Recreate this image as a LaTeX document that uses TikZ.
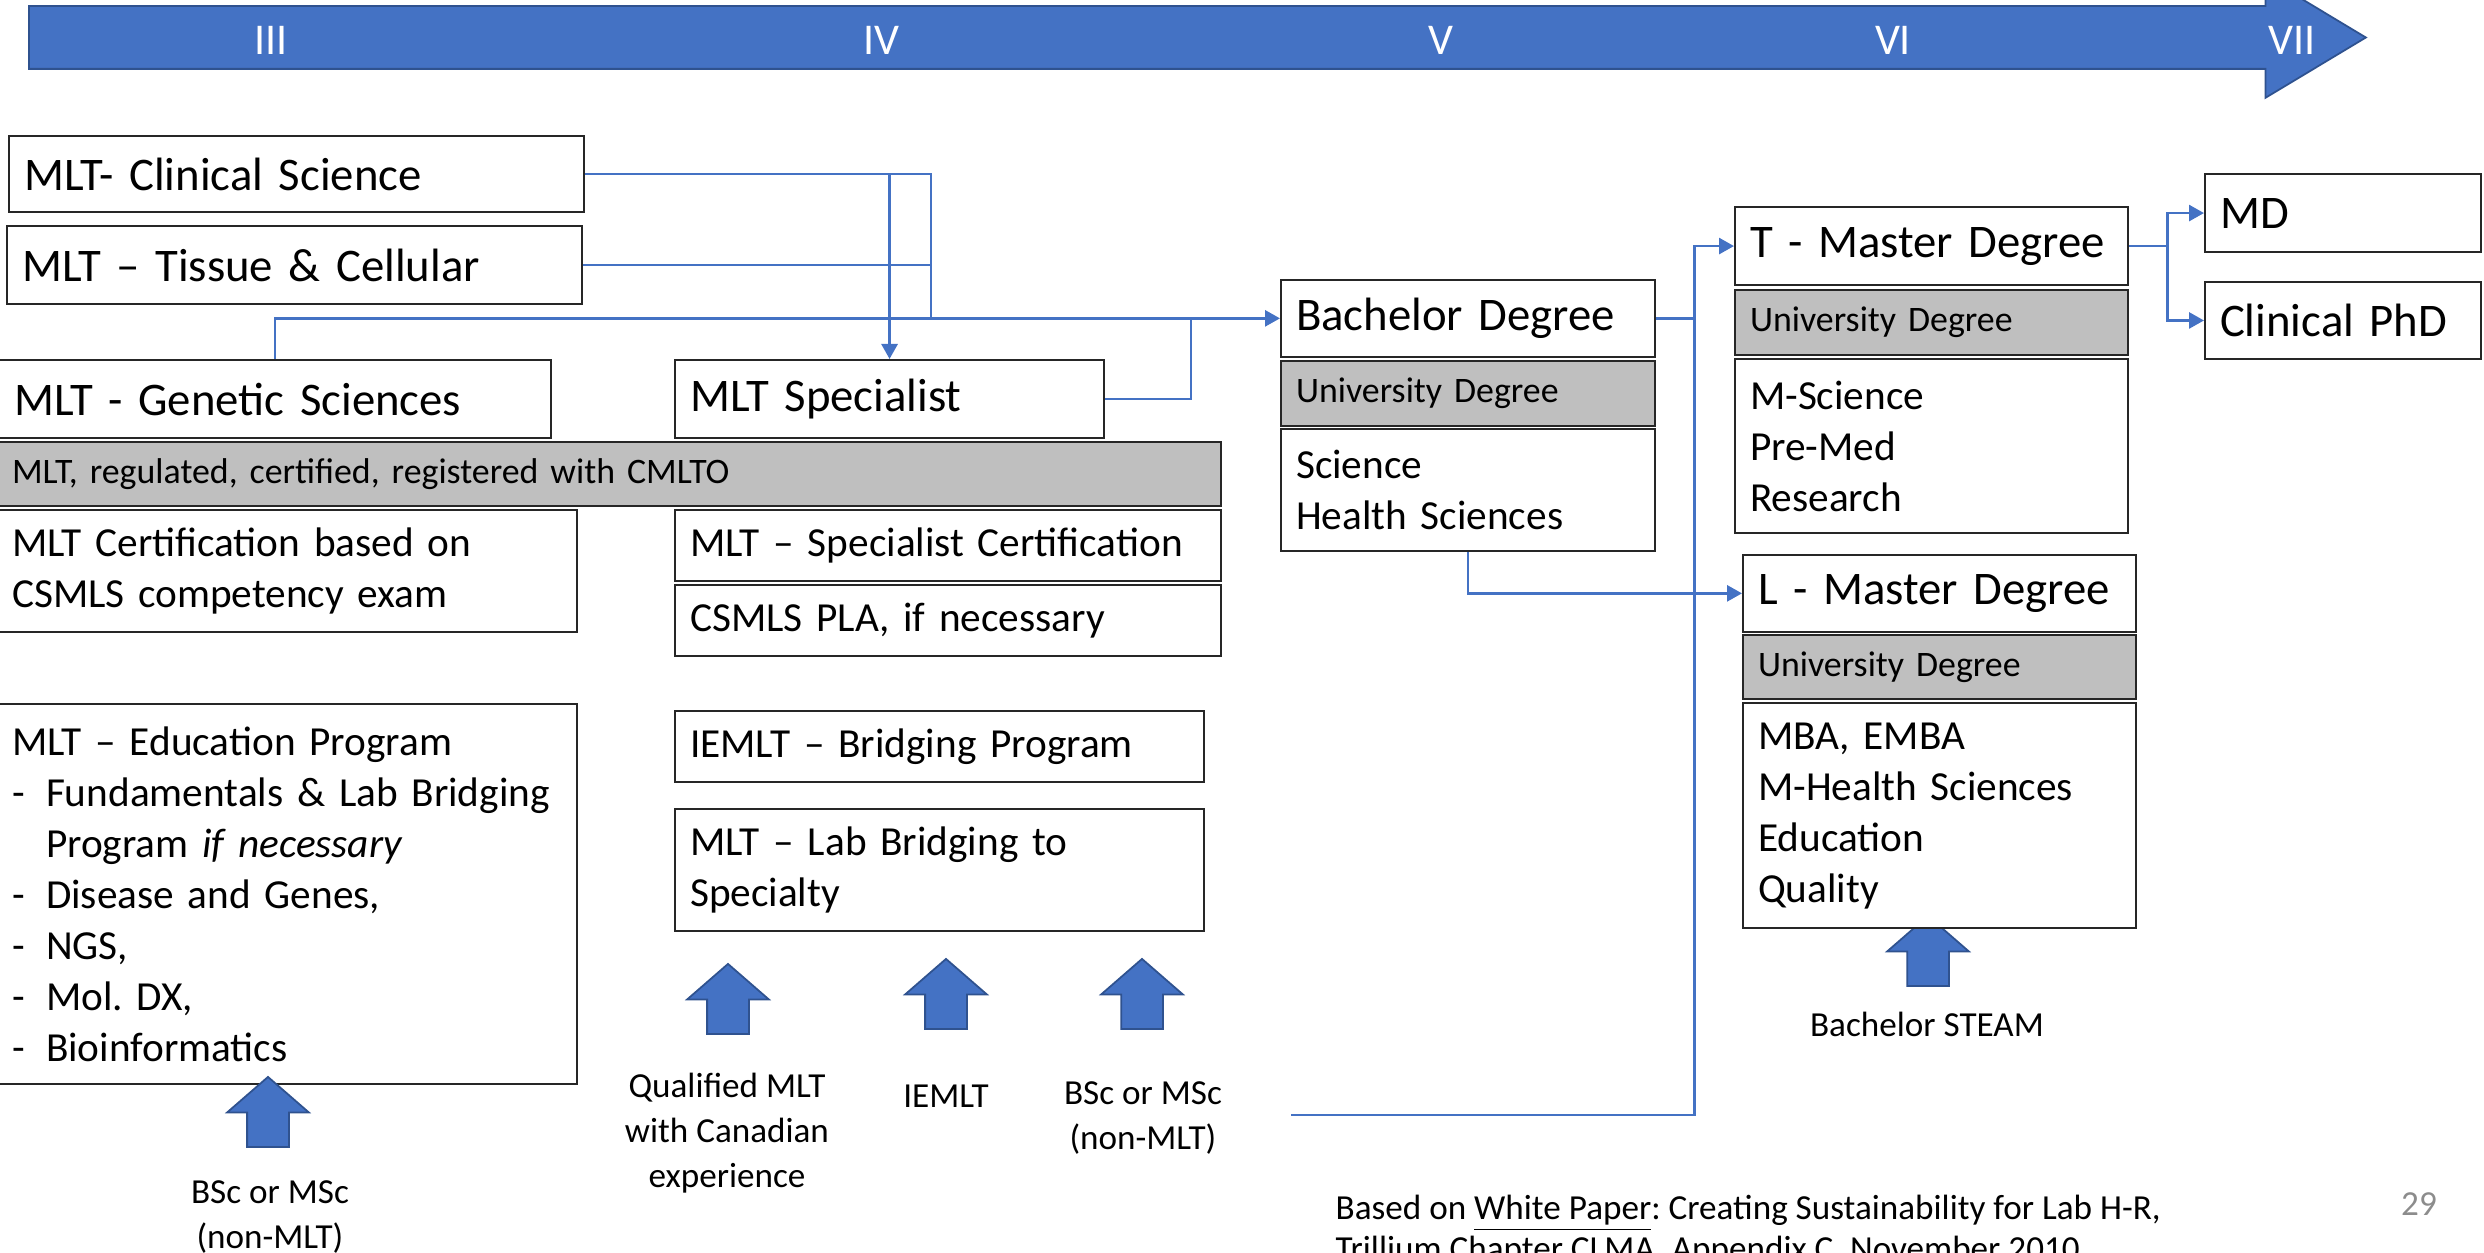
\documentclass[tikz,border=0pt]{standalone}
\usepackage{fontspec}
\setmainfont{Carlito}
\usepackage{tikz}
\usetikzlibrary{shapes.arrows, arrows.meta, positioning, calc}
\definecolor{pathblue}{HTML}{4472C4}
\definecolor{pathedge}{HTML}{2F528F}
\definecolor{bargray}{HTML}{BFBFBF}
\definecolor{pagenum}{HTML}{8C8C8C}
\newcommand{\bigtxt}{\fontsize{13.3}{16}\selectfont}
\newcommand{\midtxt}{\fontsize{11.75}{14.5}\selectfont}
\newcommand{\smalltxt}{\fontsize{10.2}{12.5}\selectfont}
\newcommand{\notetxt}{\fontsize{10}{12.8}\selectfont}
\newcommand{\dashitem}{\makebox[0.34cm][l]{-}}
\frenchspacing

\begin{document}
\begin{tikzpicture}[
    box/.style={rectangle, draw=black!85, line width=0.6pt, fill=white, anchor=north west, align=left, inner xsep=0.15cm, inner ysep=0pt, font=\bigtxt},
    listbox/.style={box, font=\midtxt},
    graybox/.style={box, fill=bargray, font=\smalltxt},
    banner/.style={single arrow, draw=pathedge, fill=pathblue, line width=0.5pt, anchor=tail, minimum height=23.37cm, minimum width=1.19cm, inner xsep=0pt, inner ysep=0.305cm, single arrow head extend=0.29cm, single arrow tip angle=62},
    stage/.style={text=white, font=\fontsize{12.5}{15}\selectfont},
    uparrow/.style={single arrow, draw=pathedge, fill=pathblue, line width=0.5pt, rotate=90, minimum width=0.8cm, minimum height=0.7cm, inner xsep=0pt, inner ysep=0.2cm, single arrow head extend=0.2cm, single arrow tip angle=98},
    source/.style={align=center, font=\notetxt, inner sep=0pt},
    link/.style={draw=pathblue, line width=0.8pt},
    arrowstyle/.style={link, -{Triangle[length=1.5mm,width=1.6mm]}}
]
\useasboundingbox (0,0) rectangle (24.84,-12.53);

% Timeline
\node[banner] (timeline) at (0.28,-0.375) {};
\foreach \num/\xpos in {III/2.71, IV/8.81, V/14.41, VI/18.93, VII/22.92}
    \node[stage] (st\num) at (\xpos,-0.40) {\num};

% MLT streams
\node[box, text width=5.45cm, minimum height=0.76cm] (clin) at (0.08,-1.35) {MLT- Clinical Science};
\node[box, text width=5.45cm, minimum height=0.78cm] (tissue) at (0.06,-2.25) {MLT -- Tissue \& Cellular};
\node[box, text width=5.22cm, minimum height=0.78cm] (genetic) at (-0.02,-3.59) {MLT - Genetic Sciences};
\node[box, text width=3.99cm, minimum height=0.78cm] (spec) at (6.74,-3.59) {MLT Specialist};
\node[graybox, text width=11.94cm, minimum height=0.64cm] (regbar) at (-0.04,-4.41) {MLT, regulated, certified, registered with CMLTO};

% Certification
\node[listbox, text width=5.50cm, minimum height=1.22cm] (cert) at (-0.04,-5.09) {MLT Certification based on\\CSMLS competency exam};
\node[listbox, text width=5.16cm, minimum height=0.71cm] (speccert) at (6.74,-5.09) {MLT -- Specialist Certification};
\node[listbox, text width=5.16cm, minimum height=0.705cm, below=0.02cm of speccert] (pla) {CSMLS PLA, if necessary};

% Programs
\node[listbox, text width=5.50cm, minimum height=3.80cm] (edu) at (-0.04,-7.03) {MLT -- Education Program\\
    \dashitem Fundamentals \& Lab Bridging\\
    \hspace*{0.34cm}Program \textit{if necessary}\\
    \dashitem Disease and Genes,\\
    \dashitem NGS,\\
    \dashitem Mol. DX,\\
    \dashitem Bioinformatics};
\node[listbox, text width=4.99cm, minimum height=0.705cm] (iemltbr) at (6.74,-7.10) {IEMLT -- Bridging Program};
\node[listbox, text width=4.99cm, minimum height=1.22cm, below=0.255cm of iemltbr] (labbr) {MLT -- Lab Bridging to\\Specialty};

% Entry points
\node[uparrow] (upedu) at (2.68,-11.21) {};
\node[uparrow] (upqual) at (7.28,-10.08) {};
\node[uparrow] (upiemlt) at (9.46,-10.03) {};
\node[uparrow] (upbsc) at (11.42,-10.03) {};
\node[uparrow] (upsteam) at (19.28,-9.60) {};
\node[source] (srcedu) at (2.70,-12.175) {BSc or MSc\\(non-MLT)};
\node[source] (srcqual) at (7.27,-11.33) {Qualified MLT\\with Canadian\\experience};
\node[source] (srciemlt) at (9.46,-10.96) {IEMLT};
\node[source] (srcbsc) at (11.43,-11.18) {BSc or MSc\\(non-MLT)};
\node[source] (srcsteam) at (19.27,-10.24) {Bachelor STEAM};

% University degrees
\node[box, text width=3.44cm, minimum height=0.774cm] (bach) at (12.80,-2.786) {Bachelor Degree};
\node[graybox, text width=3.44cm, minimum height=0.65cm, below=0.02cm of bach] (bachuni) {University Degree};
\node[listbox, text width=3.44cm, minimum height=1.22cm, below=0.01cm of bachuni] (bachlist) {Science\\Health Sciences};

\node[box, text width=3.63cm, minimum height=0.78cm] (tmaster) at (17.34,-2.06) {T - Master Degree};
\node[graybox, text width=3.63cm, minimum height=0.65cm, below=0.03cm of tmaster] (tuni) {University Degree};
\node[listbox, text width=3.63cm, minimum height=1.74cm, below=0.02cm of tuni] (tlist) {M-Science\\Pre-Med\\Research};

\node[box, text width=3.63cm, minimum height=0.774cm] (lmaster) at (17.42,-5.536) {L - Master Degree};
\node[graybox, text width=3.63cm, minimum height=0.64cm, below=0.01cm of lmaster] (luni) {University Degree};
\node[listbox, text width=3.63cm, minimum height=2.25cm, below=0.02cm of luni] (llist) {MBA, EMBA\\M-Health Sciences\\Education\\Quality};

\node[box, text width=2.46cm, minimum height=0.78cm] (md) at (22.04,-1.73) {MD};
\node[box, text width=2.46cm, minimum height=0.774cm, below=0.276cm of md] (phd) {Clinical PhD};

% Connectors
\coordinate (jn) at (bach.west -| 9.31,0);
\coordinate (bscjoin) at (12.91,-11.15);
\draw[arrowstyle] (clin.east) -| (jn) -- (bach.west);
\draw[link] (tissue.east) -- (tissue.east -| jn);
\draw[link] (genetic.north) |- (jn);
\draw[link] (spec.east) -| (jn -| 11.91,0);
\draw[arrowstyle] (clin.east -| spec.north) -- (spec.north);
\draw[arrowstyle] (bach.east) -- ++(0.38,0) |- (tmaster.west);
\draw[link] (bscjoin) -| ($(bach.east)+(0.38,0)$);
\draw[arrowstyle] (bachlist.south) |- (lmaster.west);
\draw[arrowstyle] (tmaster.east) -- ++(0.38,0) |- (md.west);
\draw[arrowstyle] (tmaster.east) -- ++(0.38,0) |- (phd.west);

% Source note
\node[source, align=left, anchor=north west, font=\fontsize{10}{11.7}\selectfont] (ref) at (13.35,-11.94) {Based on \underline{White Paper}: Creating Sustainability for Lab H-R,\\Trillium Chapter CLMA, Appendix C, November 2010};
\node[source, text=pagenum] (pgno) at (24.19,-12.04) {29};
\end{tikzpicture}
\end{document}
